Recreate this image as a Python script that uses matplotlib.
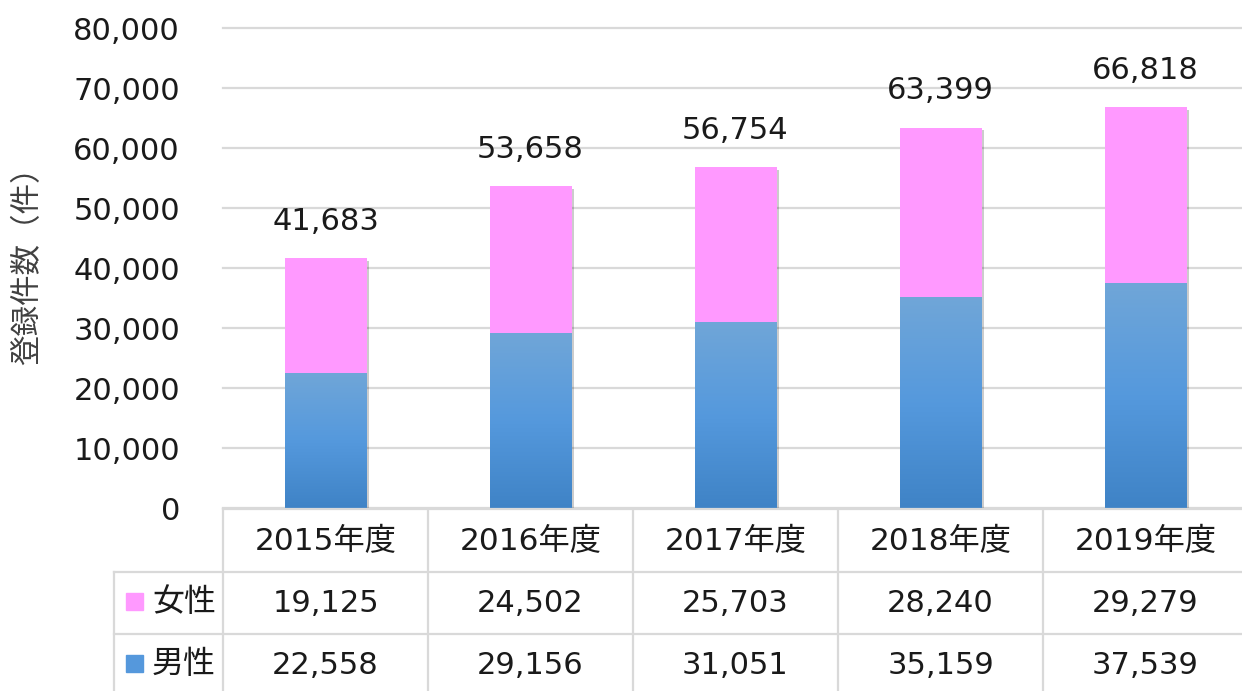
import numpy as np
import matplotlib.pyplot as plt
from matplotlib import patheffects as pe
from matplotlib.colors import LinearSegmentedColormap
from matplotlib.patches import Rectangle
from matplotlib.ticker import FuncFormatter
from matplotlib.transforms import blended_transform_factory

years = ['2015年度', '2016年度', '2017年度', '2018年度', '2019年度']
female = [19125, 24502, 25703, 28240, 29279]
male = [22558, 29156, 31051, 35159, 37539]
row_names = ['女性', '男性']
totals = [f + m for f, m in zip(female, male)]

plt.rcParams['font.family'] = ['DejaVu Sans', 'Noto Sans CJK JP']

W, H = 1242, 691
fig = plt.figure(figsize=(W / 100, H / 100), dpi=100)

pink = '#ff99ff'
blue = '#5598dc'
grid_c = '#d9d9d9'
blue_grad = LinearSegmentedColormap.from_list('blue_grad', ['#3f83c6', '#5599dd', '#70a6d8'])

# main chart area, one 205px column per year
ax = fig.add_axes([223 / W, (H - 508) / H, 1025 / W, 480 / H])
x = np.arange(len(years))
bw = 0.4

# soft drop shadow behind each full stack
ax.bar(x, totals, bw, color='white', zorder=2,
       path_effects=[pe.SimplePatchShadow(offset=(2, -2), shadow_rgbFace='black', alpha=0.2),
                     pe.Normal()])
male_bars = ax.bar(x, male, bw, color=blue, zorder=3)
ax.bar(x, female, bw, bottom=male, color=pink, zorder=3)

# vertical gradient on the blue segments
for b in male_bars:
    x0, w, h = b.get_x(), b.get_width(), b.get_height()
    im = ax.imshow(np.linspace(0, 1, 256).reshape(-1, 1), cmap=blue_grad, aspect='auto',
                   origin='lower', extent=(x0, x0 + w, 0, h), zorder=3.5)
    im.set_clip_path(b)

for xi, t in zip(x, totals):
    ax.annotate(f'{t:,}', (xi, t), xytext=(0, 16), textcoords='offset points',
                ha='center', va='bottom', fontsize=22, color='#1a1a1a')

ax.set_xlim(-0.5, 4.5)
ax.set_ylim(0, 80000)
ax.set_yticks(np.arange(0, 80001, 10000))
ax.yaxis.set_major_formatter(FuncFormatter(lambda v, p: f'{int(v):,}'))
ax.tick_params(axis='y', length=0, pad=31, labelsize=22, labelcolor='#1a1a1a')
ax.set_xticks([])
ax.yaxis.grid(True, color=grid_c, lw=1.6)
for gl in ax.yaxis.get_gridlines():
    gl.set_clip_on(False)
ax.set_axisbelow(True)
for s in ax.spines.values():
    s.set_visible(False)

fig.text(28 / W, 1 - 258 / H, '登録件数（件）', rotation=90, ha='center', va='center',
         fontsize=22, color='#404040')

# data table under the chart
tab = fig.add_axes([0, 0, 1, 1], facecolor='none')
tab.set_xlim(0, W)
tab.set_ylim(H, 0)
tab.axis('off')
tr = blended_transform_factory(ax.transData, tab.transData)

rows_y = [509, 572, 634]
row_mid = [541, 603, 665]
for i in range(len(years) + 1):
    tab.plot([i - 0.5, i - 0.5], [rows_y[0], H + 5], color=grid_c, lw=1.6, transform=tr)
tab.plot([114, 114], [rows_y[1], H + 5], color=grid_c, lw=1.6)
tab.plot([223, W + 10], [rows_y[0]] * 2, color=grid_c, lw=1.6)
for yy in rows_y[1:]:
    tab.plot([114, W + 10], [yy, yy], color=grid_c, lw=1.6)

for xi, yr in zip(x, years):
    tab.text(xi, row_mid[0], yr, transform=tr, ha='center', va='center', fontsize=22.5,
             color='#1a1a1a')
for vals, ym in zip([female, male], row_mid[1:]):
    for xi, v in zip(x, vals):
        tab.text(xi, ym, f'{v:,}', transform=tr, ha='center', va='center', fontsize=22,
                 color='#1a1a1a')

for name, col, ym in zip(row_names, [pink, blue], row_mid[1:]):
    tab.add_patch(Rectangle((126, ym - 10), 17, 17, color=col))
    tab.text(152, ym, name, ha='left', va='center', fontsize=23, color='#1a1a1a')

fig.savefig('out.png', dpi=100)
